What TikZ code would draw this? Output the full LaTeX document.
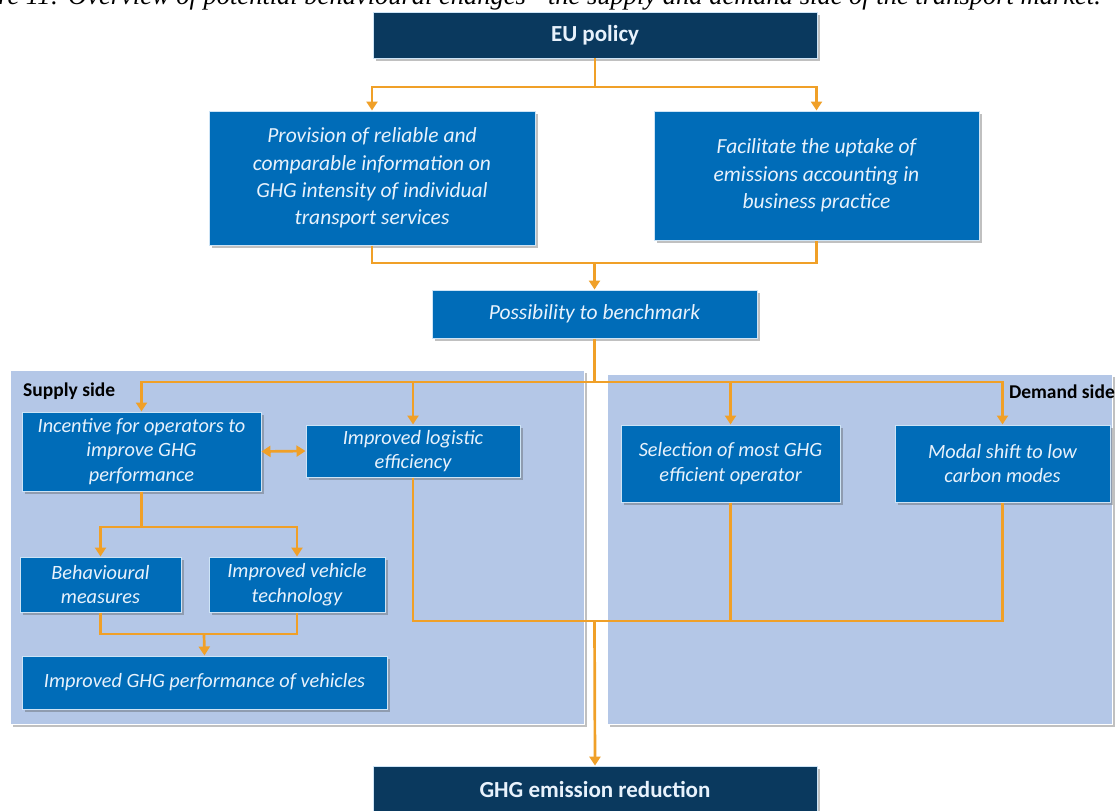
\documentclass[tikz,border=0pt]{standalone}
\usepackage{fontspec}
\setmainfont{Carlito}
\newfontfamily\capfont{Liberation Serif}
\usetikzlibrary{arrows.meta,shadows}

\definecolor{navy}{RGB}{10,57,94}
\definecolor{boxblue}{RGB}{0,108,184}
\definecolor{panelblue}{RGB}{180,199,231}
\definecolor{lineor}{RGB}{240,160,40}
\definecolor{edgelight}{RGB}{205,228,246}
\definecolor{boxtext}{RGB}{232,242,252}

\begin{document}
\begin{tikzpicture}[x=1pt,y=-1pt,
  shade/.style={drop shadow={shadow xshift=2.5pt,shadow yshift=-2.5pt,opacity=0.35,fill=black!70}},
  navybox/.style={fill=navy,draw=edgelight,line width=0.8pt,text=boxtext,inner sep=0pt,shade},
  bluebox/.style={fill=boxblue,draw=edgelight,line width=1pt,text=boxtext,align=center,inner sep=0pt,shade},
  big/.style={font=\fontsize{21.5}{27.3}\selectfont\itshape},
  small/.style={font=\fontsize{20.3}{24.5}\selectfont\itshape},
  panel/.style={fill=panelblue,draw=white,line width=0.8pt,inner sep=0pt,shade},
  sidelab/.style={font=\fontsize{19.5}{22}\selectfont\bfseries,text=black,inner sep=0pt},
  flow/.style={draw=lineor,line width=2.7pt},
  arr/.style={flow,-{Triangle[width=11pt,length=9pt]}},
  darr/.style={flow,{Triangle[width=11pt,length=9pt]}-{Triangle[width=11pt,length=9pt]}}
]
\useasboundingbox (0,0) rectangle (1119,811);
\clip (0,0) rectangle (1119,811);
\fill[white] (0,0) rectangle (1119,811);

% caption (cut off at top, as in the source)
\node[font=\capfont\itshape\fontsize{26.5}{30}\selectfont,anchor=base east,inner sep=0pt] (cap) at (1101,5)
  {Figure 11: Overview of potential behavioural changes - the supply and demand side of the transport market.};

% top
\node[navybox,font=\fontsize{23}{27}\selectfont\bfseries,minimum width=444pt,minimum height=46pt] (eu) at (595,35) {EU policy};
\node[bluebox,big,minimum width=326pt,minimum height=134pt] (prov) at (372,178)
  {Provision of reliable and\\comparable information on\\GHG intensity of individual\\transport services};
\node[bluebox,big,minimum width=325pt,minimum height=129pt] (fac) at (816.5,175.5)
  {Facilitate the uptake of\\emissions accounting in\\business practice};
\node[bluebox,big,minimum width=325pt,minimum height=48pt] (bench) at (594.5,314) {Possibility to benchmark};

% panels
\node[panel,minimum width=574pt,minimum height=354pt] (sup) at (297,547) {};
\node[panel,minimum width=505pt,minimum height=350pt] (dem) at (859.5,549) {};
\node[sidelab,anchor=west] (suplab) at (23,391) {Supply side};
\node[sidelab,anchor=east] (demlab) at (1115,392) {Demand side};

% supply side boxes
\node[bluebox,small,minimum width=239pt,minimum height=79pt] (inc) at (141.5,451.5)
  {Incentive for operators to\\improve GHG\\performance};
\node[bluebox,small,minimum width=214pt,minimum height=52pt] (log) at (413,451)
  {Improved logistic\\efficiency};
\node[bluebox,small,minimum width=161pt,minimum height=55pt] (beh) at (100.5,584.5)
  {Behavioural\\measures};
\node[bluebox,small,minimum width=176pt,minimum height=55pt] (veh) at (297,584.5)
  {Improved vehicle\\technology};
\node[bluebox,small,minimum width=365pt,minimum height=53pt] (perf) at (204.5,682.5)
  {Improved GHG performance of vehicles};

% demand side boxes
\node[bluebox,small,minimum width=219pt,minimum height=77pt] (sel) at (730.5,463.5)
  {Selection of most GHG\\efficient operator};
\node[bluebox,small,minimum width=215pt,minimum height=77pt] (mod) at (1002.5,463.5)
  {Modal shift to low\\carbon modes};

% bottom
\node[navybox,font=\fontsize{23}{27}\selectfont\bfseries,minimum width=444pt,minimum height=46pt] (ghg) at (595,789) {GHG emission reduction};

% junctions
\coordinate (j1) at (595,87);
\coordinate (j2) at (594.5,263);
\coordinate (j3) at (594.5,382);
\coordinate (j4) at (141.5,527);
\coordinate (j5) at (204,634);
\coordinate (j6) at (594.5,621);

% connectors
\draw[flow] (eu.south) -- (j1);
\draw[arr] (j1) -| (prov.north);
\draw[arr] (j1) -| (fac.north);
\draw[flow] (prov.south) |- (j2) -| (fac.south);
\draw[arr] (j2) -- (bench.north);
\draw[flow] (bench.south) -- (j3);
\draw[arr] (j3) -| (inc.north);
\draw[arr] (j3) -| (mod.north);
\draw[arr] (log.north |- j3) -- (log.north);
\draw[arr] (sel.north |- j3) -- (sel.north);
\draw[darr] (inc.east) -- (log.west);
\draw[flow] (inc.south) -- (j4);
\draw[arr] (j4) -| (beh.north);
\draw[arr] (j4) -| (veh.north);
\draw[flow] (beh.south) |- (j5) -| (veh.south);
\draw[arr] (j5) -- (perf.north);
\draw[flow] (log.south) |- (j6) -| (mod.south);
\draw[flow] (sel.south) -- (sel.south |- j6);
\draw[arr] (j6) -- (ghg.north);
\end{tikzpicture}
\end{document}
